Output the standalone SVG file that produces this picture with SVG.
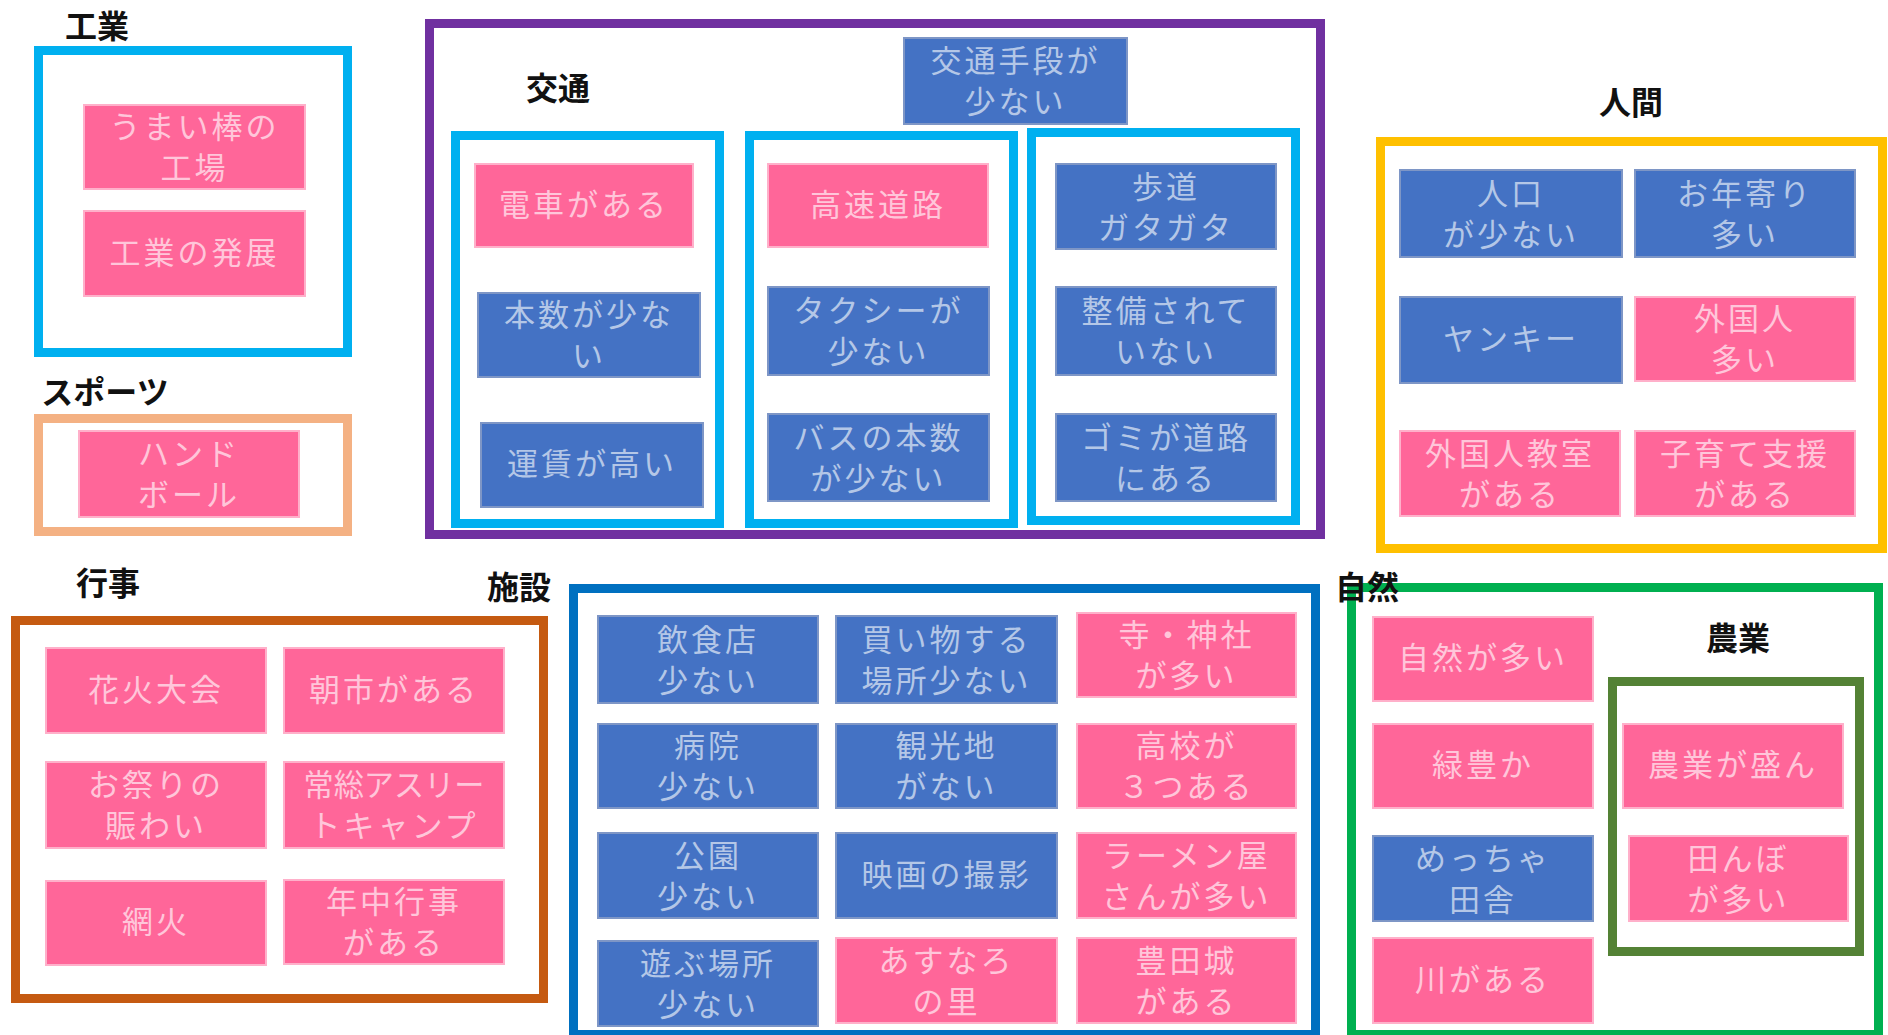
<svg xmlns="http://www.w3.org/2000/svg" width="1888" height="1035" viewBox="0 0 1888 1035">
<style>
text{font-family:"Noto Sans CJK JP","Noto Sans CJK SC",sans-serif}
.fr{fill:none;stroke-width:9}
.lb{font-size:32px;font-weight:bold;fill:#111;text-anchor:middle}
.p rect{fill:#FF6699;stroke:#FFB0CA;stroke-width:2}
.b rect{fill:#4472C4;stroke:#7E96C6;stroke-width:2}
.p text,.b text{font-size:31px;letter-spacing:3px;text-anchor:middle}
.p text{fill:#FFC6DA}
.b text{fill:#B4C7E7}
</style>
<rect width="1888" height="1035" fill="#fff"/>
<g id="frames">
<rect class="fr" x="38.5" y="50.5" width="309" height="302" stroke="#00B0F0"/>
<rect class="fr" x="38.5" y="418.5" width="309" height="113" stroke="#F4B183"/>
<rect class="fr" x="429.5" y="23.5" width="891" height="511" stroke="#7030A0"/>
<rect class="fr" x="455.5" y="135.5" width="264" height="388" stroke="#00B0F0"/>
<rect class="fr" x="749.5" y="135.5" width="264" height="388" stroke="#00B0F0"/>
<rect class="fr" x="1031.5" y="132.5" width="264" height="388" stroke="#00B0F0"/>
<rect class="fr" x="1380.5" y="141.5" width="502" height="407" stroke="#FFC000"/>
<rect class="fr" x="15.5" y="620.5" width="528" height="378" stroke="#C55A11"/>
<rect class="fr" x="573.5" y="588.5" width="742" height="446" stroke="#0070C0"/>
<rect class="fr" x="1351.5" y="587.5" width="527" height="447" stroke="#00B050"/>
<rect class="fr" x="1612.5" y="681.5" width="247" height="270" stroke="#548235"/>
</g>
<g id="labels">
<text class="lb" x="97" y="38">工業</text>
<text class="lb" x="105" y="404">スポーツ</text>
<text class="lb" x="558" y="100">交通</text>
<text class="lb" x="1631" y="114">人間</text>
<text class="lb" x="108" y="595">行事</text>
<text class="lb" x="519" y="599">施設</text>
<text class="lb" x="1367" y="599">自然</text>
<text class="lb" x="1738" y="650">農業</text>
</g>
<g id="connectors"/>
<g id="n1" class="p"><rect x="84" y="105" width="221" height="84"/><text x="194.5" y="138">うまい棒の</text><text x="194.5" y="179">工場</text></g>
<g id="n2" class="p"><rect x="84" y="211" width="221" height="85"/><text x="194.5" y="263.5">工業の発展</text></g>
<g id="n3" class="p"><rect x="79" y="431" width="220" height="86"/><text x="189" y="465">ハンド</text><text x="189" y="506">ボール</text></g>
<g id="n4" class="b"><rect x="904" y="38" width="223" height="86"/><text x="1015.5" y="72">交通手段が</text><text x="1015.5" y="113">少ない</text></g>
<g id="n5" class="p"><rect x="475" y="164" width="218" height="83"/><text x="584" y="215.5">電車がある</text></g>
<g id="n6" class="b"><rect x="478" y="293" width="222" height="84"/><text x="589" y="326">本数が少な</text><text x="589" y="367">い</text></g>
<g id="n7" class="b"><rect x="481" y="423" width="222" height="84"/><text x="592" y="475">運賃が高い</text></g>
<g id="n8" class="p"><rect x="768" y="164" width="220" height="83"/><text x="878" y="215.5">高速道路</text></g>
<g id="n9" class="b"><rect x="768" y="287" width="221" height="88"/><text x="878.5" y="322">タクシーが</text><text x="878.5" y="363">少ない</text></g>
<g id="n10" class="b"><rect x="768" y="414" width="221" height="87"/><text x="878.5" y="448.5">バスの本数</text><text x="878.5" y="489.5">が少ない</text></g>
<g id="n11" class="b"><rect x="1056" y="164" width="220" height="85"/><text x="1166" y="197.5">歩道</text><text x="1166" y="238.5">ガタガタ</text></g>
<g id="n12" class="b"><rect x="1056" y="287" width="220" height="88"/><text x="1166" y="322">整備されて</text><text x="1166" y="363">いない</text></g>
<g id="n13" class="b"><rect x="1056" y="414" width="220" height="87"/><text x="1166" y="448.5">ゴミが道路</text><text x="1166" y="489.5">にある</text></g>
<g id="n14" class="b"><rect x="1400" y="170" width="222" height="87"/><text x="1511" y="204.5">人口</text><text x="1511" y="245.5">が少ない</text></g>
<g id="n15" class="b"><rect x="1635" y="170" width="220" height="87"/><text x="1745" y="204.5">お年寄り</text><text x="1745" y="245.5">多い</text></g>
<g id="n16" class="b"><rect x="1400" y="297" width="222" height="86"/><text x="1511" y="350">ヤンキー</text></g>
<g id="n17" class="p"><rect x="1635" y="297" width="220" height="84"/><text x="1745" y="330">外国人</text><text x="1745" y="371">多い</text></g>
<g id="n18" class="p"><rect x="1400" y="431" width="220" height="85"/><text x="1510" y="464.5">外国人教室</text><text x="1510" y="505.5">がある</text></g>
<g id="n19" class="p"><rect x="1635" y="431" width="220" height="85"/><text x="1745" y="464.5">子育て支援</text><text x="1745" y="505.5">がある</text></g>
<g id="n20" class="p"><rect x="46" y="648" width="220" height="85"/><text x="156" y="700.5">花火大会</text></g>
<g id="n21" class="p"><rect x="284" y="648" width="220" height="85"/><text x="394" y="700.5">朝市がある</text></g>
<g id="n22" class="p"><rect x="46" y="762" width="220" height="86"/><text x="156" y="796">お祭りの</text><text x="156" y="837">賑わい</text></g>
<g id="n23" class="p"><rect x="284" y="762" width="220" height="86"/><text x="394" y="796" textLength="181" lengthAdjust="spacingAndGlyphs" style="letter-spacing:0">常総アスリー</text><text x="394" y="837">トキャンプ</text></g>
<g id="n24" class="p"><rect x="46" y="881" width="220" height="84"/><text x="156" y="933">網火</text></g>
<g id="n25" class="p"><rect x="284" y="880" width="220" height="84"/><text x="394" y="913">年中行事</text><text x="394" y="954">がある</text></g>
<g id="n26" class="b"><rect x="598" y="616" width="220" height="87"/><text x="708" y="650.5">飲食店</text><text x="708" y="691.5">少ない</text></g>
<g id="n27" class="b"><rect x="836" y="616" width="221" height="87"/><text x="946.5" y="650.5">買い物する</text><text x="946.5" y="691.5">場所少ない</text></g>
<g id="n28" class="p"><rect x="1077" y="613" width="219" height="84"/><text x="1186.5" y="646">寺・神社</text><text x="1186.5" y="687">が多い</text></g>
<g id="n29" class="b"><rect x="598" y="724" width="220" height="84"/><text x="708" y="757">病院</text><text x="708" y="798">少ない</text></g>
<g id="n30" class="b"><rect x="836" y="724" width="221" height="84"/><text x="946.5" y="757">観光地</text><text x="946.5" y="798">がない</text></g>
<g id="n31" class="p"><rect x="1077" y="724" width="219" height="84"/><text x="1186.5" y="757">高校が</text><text x="1186.5" y="798">３つある</text></g>
<g id="n32" class="b"><rect x="598" y="833" width="220" height="85"/><text x="708" y="866.5">公園</text><text x="708" y="907.5">少ない</text></g>
<g id="n33" class="b"><rect x="836" y="833" width="221" height="85"/><text x="946.5" y="885.5">映画の撮影</text></g>
<g id="n34" class="p"><rect x="1077" y="833" width="219" height="85"/><text x="1186.5" y="866.5">ラーメン屋</text><text x="1186.5" y="907.5">さんが多い</text></g>
<g id="n35" class="b"><rect x="598" y="941" width="220" height="85"/><text x="708" y="974.5">遊ぶ場所</text><text x="708" y="1015.5">少ない</text></g>
<g id="n36" class="p"><rect x="836" y="938" width="221" height="85"/><text x="946.5" y="971.5">あすなろ</text><text x="946.5" y="1012.5">の里</text></g>
<g id="n37" class="p"><rect x="1077" y="938" width="219" height="85"/><text x="1186.5" y="971.5">豊田城</text><text x="1186.5" y="1012.5">がある</text></g>
<g id="n38" class="p"><rect x="1373" y="617" width="220" height="84"/><text x="1483" y="669">自然が多い</text></g>
<g id="n39" class="p"><rect x="1373" y="724" width="220" height="84"/><text x="1483" y="776">緑豊か</text></g>
<g id="n40" class="b"><rect x="1373" y="836" width="220" height="85"/><text x="1483" y="869.5">めっちゃ</text><text x="1483" y="910.5">田舎</text></g>
<g id="n41" class="p"><rect x="1373" y="938" width="220" height="85"/><text x="1483" y="990.5">川がある</text></g>
<g id="n42" class="p"><rect x="1623" y="724" width="220" height="84"/><text x="1733" y="776">農業が盛ん</text></g>
<g id="n43" class="p"><rect x="1629" y="836" width="219" height="85"/><text x="1738.5" y="869.5">田んぼ</text><text x="1738.5" y="910.5">が多い</text></g>
</svg>
